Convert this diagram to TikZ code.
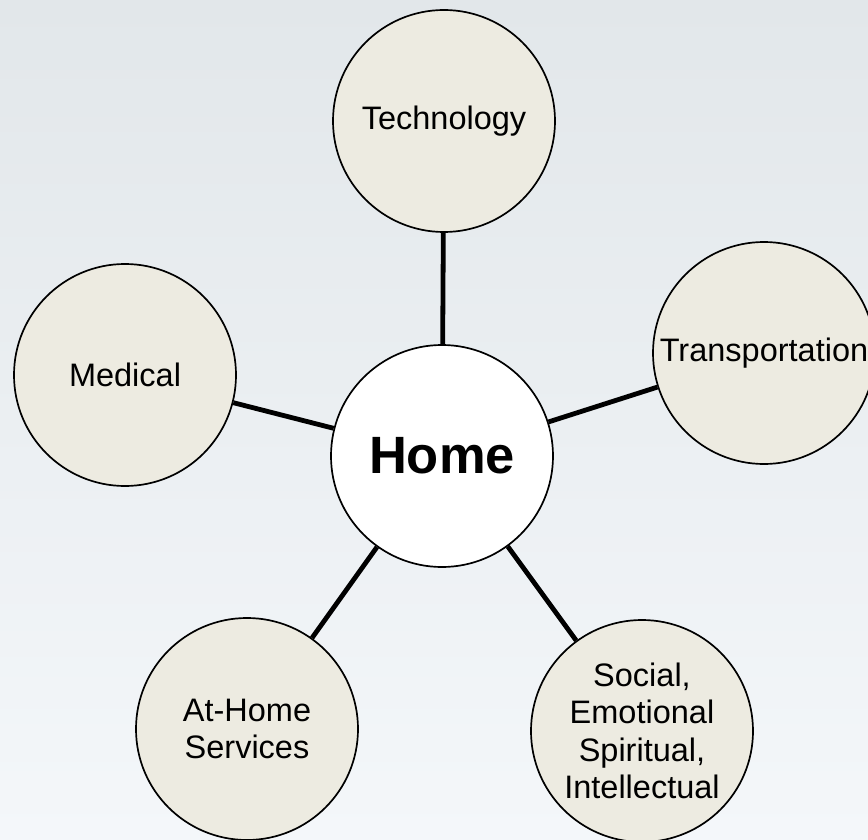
\documentclass[tikz,border=0pt]{standalone}
\usepackage{fontspec}
\setmainfont{Liberation Sans}
\definecolor{sand}{HTML}{EDEBE1}
\definecolor{skytop}{HTML}{E2E7EA}
\definecolor{skymid}{HTML}{E5E9F0}
\definecolor{skylow}{HTML}{F4F7FA}
\tikzset{
  topic/.style={circle,draw,line width=1.7pt,fill=sand,minimum size=222pt,
    inner sep=0pt,align=center,font=\fontsize{32.5}{37.5}\selectfont},
  hub/.style={topic,fill=white,font=\fontsize{52.5}{58}\selectfont\bfseries},
  spoke/.style={line width=4.8pt},
}

\begin{document}
\begin{tikzpicture}[x=1pt,y=-1pt]
  \clip (0,0) rectangle (868,840);
  \shade[top color=skytop,middle color=skymid,bottom color=skylow] (0,0) rectangle (868,840);
  % hub and the five topics round it
  \node[hub] (home) at (442,456) {Home};
  \node[topic] (tech) at (444,121) {Technology};
  \node[topic] (transport) at (764,353) {Transportation};
  \node[topic] (medical) at (125,375) {Medical};
  \node[topic] (athome) at (247,729) {At-Home\\Services};
  \node[topic] (social) at (642,731) {Social,\\Emotional\\Spiritual,\\Intellectual};
  % spokes
  \draw[spoke] (home) -- (tech);
  \draw[spoke] (home) -- (transport);
  \draw[spoke] (home) -- (medical);
  \draw[spoke] (home) -- (athome);
  \draw[spoke] (home) -- (social);
\end{tikzpicture}
\end{document}
